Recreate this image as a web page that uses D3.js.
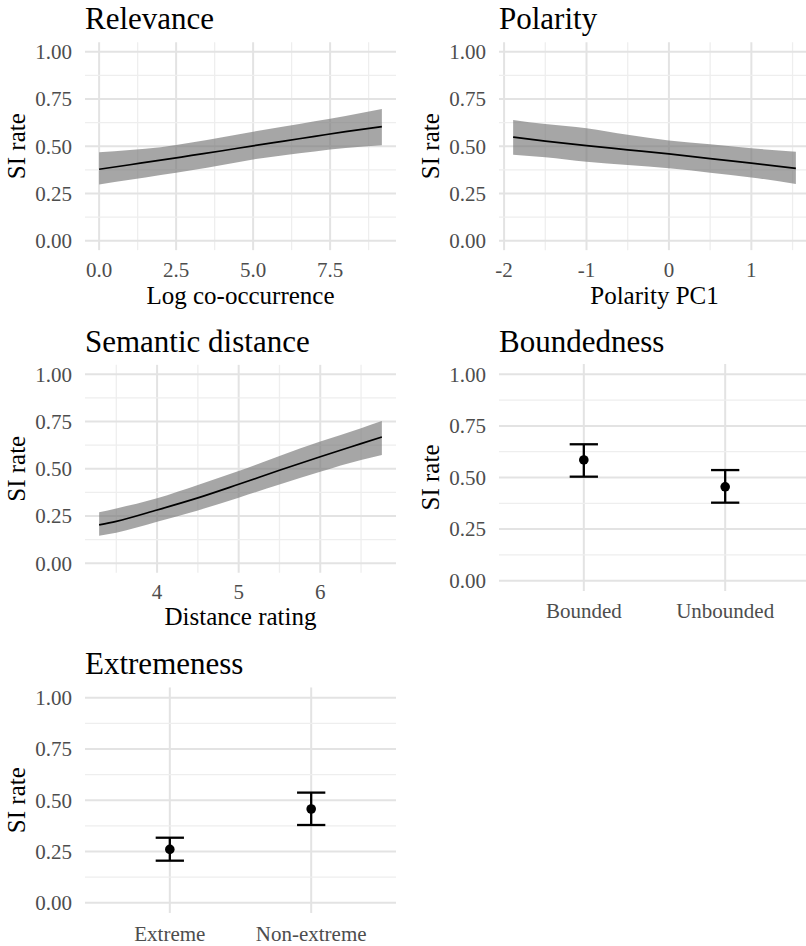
<!DOCTYPE html>
<html>
<head>
<meta charset="utf-8">
<script src="https://cdn.jsdelivr.net/npm/d3@7"></script>
<style>
  html, body { margin: 0; padding: 0; background: #fff; }
  svg { display: block; }
  text { font-family: "Liberation Serif", "Times New Roman", serif; }
</style>
</head>
<body>
<svg id="chart" width="806" height="946"></svg>
<script>
// ---------------- data ----------------
const yTicks = [0, 0.25, 0.5, 0.75, 1];
const yMinor = [0.125, 0.375, 0.625, 0.875];

// Relevance
const relX     = [0, 1, 2, 3, 4, 5, 6, 7, 8, 9.18];
const relFit   = [0.378, 0.402, 0.426, 0.451, 0.476, 0.502, 0.527, 0.552, 0.577, 0.604];
const relLower = [0.298, 0.322, 0.347, 0.373, 0.401, 0.430, 0.452, 0.472, 0.490, 0.505];
const relUpper = [0.468, 0.480, 0.495, 0.520, 0.548, 0.577, 0.604, 0.632, 0.660, 0.697];
const relTicks = [0, 2.5, 5, 7.5];
const relMinor = [1.25, 3.75, 6.25, 8.75];

// Polarity
const polX     = [-1.89, -1.5, -1, -0.5, 0, 0.5, 1, 1.54];
const polFit   = [0.548, 0.527, 0.503, 0.481, 0.459, 0.434, 0.410, 0.383];
const polLower = [0.455, 0.442, 0.418, 0.400, 0.383, 0.360, 0.335, 0.300];
const polUpper = [0.639, 0.617, 0.595, 0.560, 0.530, 0.510, 0.489, 0.471];
const polTicks = [-2, -1, 0, 1];
const polMinor = [-1.5, -0.5, 0.5, 1.5];

// Semantic distance
const semX     = [3.29, 3.5, 4, 4.5, 5, 5.5, 6, 6.5, 6.755];
const semFit   = [0.203, 0.222, 0.282, 0.346, 0.418, 0.492, 0.564, 0.633, 0.668];
const semLower = [0.146, 0.162, 0.220, 0.280, 0.347, 0.417, 0.485, 0.547, 0.573];
const semUpper = [0.270, 0.290, 0.344, 0.414, 0.488, 0.568, 0.644, 0.715, 0.753];
const semTicks = [4, 5, 6];
const semMinor = [3.5, 4.5, 5.5, 6.5];

// Boundedness
const bndCats  = ["Bounded", "Unbounded"];
const bndFit   = [0.585, 0.455];
const bndLower = [0.504, 0.378];
const bndUpper = [0.661, 0.536];

// Extremeness
const extCats  = ["Extreme", "Non-extreme"];
const extFit   = [0.260, 0.457];
const extLower = [0.205, 0.379];
const extUpper = [0.317, 0.537];

// ---------------- drawing ----------------
const svg = d3.select("#chart");
svg.append("rect").attr("width", 806).attr("height", 946).attr("fill", "#fff");

const MAJOR = "#e3e3e3", MINOR = "#eeeeee";
const TICKCOL = "#4d4d4d";

function frame(g, p, y) {
  g.selectAll(".hmin").data(yMinor).enter().append("line")
    .attr("x1", p.left).attr("x2", p.right)
    .attr("y1", d => y(d)).attr("y2", d => y(d))
    .attr("stroke", MINOR).attr("stroke-width", 1.3);
  g.selectAll(".hmaj").data(yTicks).enter().append("line")
    .attr("x1", p.left).attr("x2", p.right)
    .attr("y1", d => y(d)).attr("y2", d => y(d))
    .attr("stroke", MAJOR).attr("stroke-width", 2);
  g.selectAll(".ytl").data(yTicks).enter().append("text")
    .attr("x", p.left - 13).attr("y", d => y(d)).attr("dy", "0.35em")
    .attr("text-anchor", "end").attr("font-size", 21).attr("fill", TICKCOL)
    .text(d => d3.format(".2f")(d));
  g.append("text").attr("x", p.left).attr("y", p.titleY)
    .attr("font-size", 31).attr("fill", "#000").text(p.title);
  g.append("text")
    .attr("transform", `translate(${p.left - 60},${(p.top + p.bottom) / 2}) rotate(-90)`)
    .attr("text-anchor", "middle").attr("font-size", 25).attr("fill", "#000")
    .text("SI rate");
}

function continuousPanel(p, xs, fit, lower, upper, ticks, minor, fmt) {
  const g = svg.append("g");
  const ext = d3.extent(xs);
  const pad = (ext[1] - ext[0]) * 0.05;
  const x = d3.scaleLinear().domain([ext[0] - pad, ext[1] + pad]).range([p.left, p.right]);
  const y = d3.scaleLinear().domain([-0.05, 1.05]).range([p.bottom, p.top]);

  g.selectAll(".vmin").data(minor).enter().append("line")
    .attr("x1", d => x(d)).attr("x2", d => x(d))
    .attr("y1", p.top).attr("y2", p.bottom)
    .attr("stroke", MINOR).attr("stroke-width", 1.3);
  g.selectAll(".vmaj").data(ticks).enter().append("line")
    .attr("x1", d => x(d)).attr("x2", d => x(d))
    .attr("y1", p.top).attr("y2", p.bottom)
    .attr("stroke", MAJOR).attr("stroke-width", 2);
  frame(g, p, y);

  const rows = xs.map((v, i) => ({x: v, fit: fit[i], lo: lower[i], hi: upper[i]}));
  g.append("path").datum(rows)
    .attr("d", d3.area().x(d => x(d.x)).y0(d => y(d.lo)).y1(d => y(d.hi)).curve(d3.curveMonotoneX))
    .attr("fill", "#747474").attr("fill-opacity", 0.64);
  g.append("path").datum(rows)
    .attr("d", d3.line().x(d => x(d.x)).y(d => y(d.fit)).curve(d3.curveMonotoneX))
    .attr("fill", "none").attr("stroke", "#000").attr("stroke-width", 1.7);

  g.selectAll(".xtl").data(ticks).enter().append("text")
    .attr("x", d => x(d)).attr("y", p.tickY)
    .attr("text-anchor", "middle").attr("font-size", 21).attr("fill", TICKCOL)
    .text(fmt);
  g.append("text").attr("x", (p.left + p.right) / 2).attr("y", p.xTitleY)
    .attr("text-anchor", "middle").attr("font-size", 25).attr("fill", "#000")
    .text(p.xTitle);
}

function discretePanel(p, cats, fit, lower, upper) {
  const g = svg.append("g");
  const x = d3.scalePoint().domain(cats).range([p.left, p.right]).padding(0.6);
  const y = d3.scaleLinear().domain([-0.05, 1.05]).range([p.bottom, p.top]);
  g.selectAll(".vmaj").data(cats).enter().append("line")
    .attr("x1", d => x(d)).attr("x2", d => x(d))
    .attr("y1", p.top).attr("y2", p.bottom)
    .attr("stroke", MAJOR).attr("stroke-width", 2);
  frame(g, p, y);
  const half = x.step() * 0.1;
  const rows = cats.map((c, i) => ({c, fit: fit[i], lo: lower[i], hi: upper[i]}));
  const eb = g.selectAll(".eb").data(rows).enter().append("g");
  eb.append("line").attr("x1", d => x(d.c)).attr("x2", d => x(d.c))
    .attr("y1", d => y(d.lo)).attr("y2", d => y(d.hi))
    .attr("stroke", "#000").attr("stroke-width", 2.3);
  eb.append("line").attr("x1", d => x(d.c) - half).attr("x2", d => x(d.c) + half)
    .attr("y1", d => y(d.hi)).attr("y2", d => y(d.hi))
    .attr("stroke", "#000").attr("stroke-width", 2.3);
  eb.append("line").attr("x1", d => x(d.c) - half).attr("x2", d => x(d.c) + half)
    .attr("y1", d => y(d.lo)).attr("y2", d => y(d.lo))
    .attr("stroke", "#000").attr("stroke-width", 2.3);
  eb.append("circle").attr("cx", d => x(d.c)).attr("cy", d => y(d.fit))
    .attr("r", 4.8).attr("fill", "#000");
  g.selectAll(".xtl").data(cats).enter().append("text")
    .attr("x", d => x(d)).attr("y", p.tickY)
    .attr("text-anchor", "middle").attr("font-size", 21).attr("fill", TICKCOL)
    .text(d => d);
}

const L = {left: 85, right: 396};
const R = {left: 499, right: 810};

continuousPanel({...L, top: 42.25, bottom: 250.15, titleY: 29, title: "Relevance",
  tickY: 277, xTitleY: 303.5, xTitle: "Log co-occurrence"},
  relX, relFit, relLower, relUpper, relTicks, relMinor, d3.format(".1f"));

continuousPanel({...R, top: 42.25, bottom: 250.15, titleY: 29, title: "Polarity",
  tickY: 277, xTitleY: 303.5, xTitle: "Polarity PC1"},
  polX, polFit, polLower, polUpper, polTicks, polMinor, d => String(d));

continuousPanel({...L, top: 364.85, bottom: 572.75, titleY: 352, title: "Semantic distance",
  tickY: 599, xTitleY: 625, xTitle: "Distance rating"},
  semX, semFit, semLower, semUpper, semTicks, semMinor, d => String(d));

discretePanel({...R, top: 364, bottom: 591, titleY: 352, title: "Boundedness", tickY: 618},
  bndCats, bndFit, bndLower, bndUpper);

discretePanel({...L, top: 687.45, bottom: 912.95, titleY: 674, title: "Extremeness", tickY: 941},
  extCats, extFit, extLower, extUpper);
</script>
</body>
</html>
